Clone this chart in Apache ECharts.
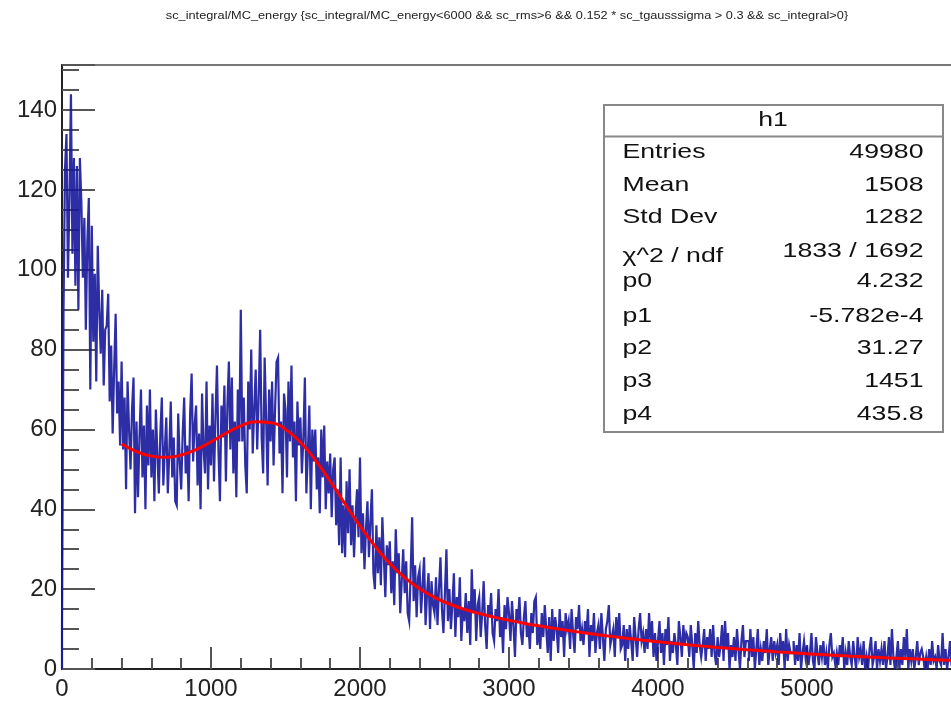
<!DOCTYPE html>
<html>
<head>
<meta charset="utf-8">
<script src="https://cdn.jsdelivr.net/npm/echarts@6/dist/echarts.min.js"></script>
<style>
html,body{margin:0;padding:0;background:#fff;}
#chart{width:951px;height:701px;}
</style>
</head>
<body>
<div id="chart"></div>
<script>
// ---- data ----
const chartTitle = 'sc_integral/MC_energy {sc_integral/MC_energy<6000 && sc_rms>6 && 0.152 * sc_tgausssigma > 0.3 && sc_integral>0}';
const binWidth = 10;       // histogram bin width (x units), bins start at 0
const counts = [
  10, 89, 125, 134, 98, 118, 144, 104, 128, 96,
  126, 90, 128, 117, 98, 113, 85, 107, 118, 70,
  111, 82, 99, 72, 106, 90, 79, 95, 71, 85,
  86, 94, 67, 81, 59, 75, 89, 64, 72, 56,
  77, 55, 68, 45, 72, 60, 50, 65, 73, 39,
  62, 43, 58, 70, 48, 61, 40, 66, 51, 70,
  48, 60, 42, 65, 54, 44, 59, 68, 46, 55,
  63, 44, 54, 67, 48, 58, 42, 41, 64, 52,
  45, 59, 68, 49, 56, 42, 64, 74, 52, 61,
  66, 46, 59, 40, 69, 55, 49, 72, 45, 61,
  51, 69, 47, 63, 76, 55, 42, 66, 58, 71,
  47, 66, 77, 55, 73, 49, 62, 43, 70, 57,
  90, 57, 68, 51, 44, 72, 60, 80, 54, 65,
  75, 55, 68, 85, 58, 49, 78, 63, 46, 70,
  57, 72, 51, 65, 77, 78, 54, 62, 44, 69,
  65, 48, 72, 57, 76, 53, 62, 42, 67, 56,
  63, 49, 58, 73, 44, 54, 66, 40, 60, 52,
  60, 45, 53, 39, 60, 48, 61, 40, 52, 44,
  54, 38, 50, 53, 36, 45, 31, 53, 29, 41,
  28, 47, 34, 50, 31, 41, 28, 38, 45, 33,
  53, 29, 39, 25, 35, 42, 28, 37, 45, 24,
  20, 36, 24, 33, 21, 38, 28, 18, 31, 26,
  32, 19, 27, 16, 35, 24, 29, 14, 22, 30,
  19, 27, 14, 12, 24, 38, 17, 26, 13, 23,
  25, 14, 21, 28, 11, 19, 24, 10, 22, 16,
  14, 23, 11, 20, 28, 15, 9, 19, 30, 12,
  20, 10, 16, 24, 8, 18, 13, 23, 7, 15,
  12, 19, 9, 17, 6, 25, 14, 20, 7, 16,
  18, 8, 14, 22, 11, 5, 16, 13, 19, 9,
  7, 15, 12, 20, 8, 13, 4, 16, 10, 18,
  14, 7, 17, 11, 3, 15, 12, 18, 9, 6,
  13, 17, 8, 11, 5, 14, 9, 17, 18, 6,
  11, 5, 14, 8, 16, 10, 4, 13, 2, 15,
  7, 13, 10, 4, 15, 8, 12, 3, 14, 10,
  12, 5, 15, 9, 4, 13, 10, 16, 7, 10,
  6, 12, 9, 15, 3, 11, 7, 14, 4, 9,
  11, 5, 14, 8, 2, 10, 12, 16, 6, 8,
  10, 3, 13, 8, 14, 5, 6, 11, 2, 10,
  5, 11, 7, 2, 13, 8, 3, 10, 14, 7,
  9, 4, 10, 5, 14, 7, 12, 3, 9, 2,
  7, 12, 4, 9, 1, 10, 6, 13, 2, 7,
  4, 9, 6, 1, 12, 8, 3, 11, 6, 9,
  8, 3, 11, 6, 0, 9, 4, 12, 6, 3,
  6, 10, 2, 8, 5, 10, 3, 11, 4, 1,
  8, 3, 6, 11, 2, 12, 5, 9, 0, 6,
  3, 8, 2, 10, 5, 0, 7, 11, 3, 7,
  7, 2, 10, 3, 8, 0, 5, 10, 1, 5,
  2, 7, 4, 10, 1, 5, 8, 2, 7, 4,
  6, 1, 9, 4, 7, 0, 10, 2, 6, 4,
  4, 7, 1, 6, 2, 9, 0, 4, 7, 3,
  6, 1, 4, 9, 2, 0, 8, 4, 1, 6,
  3, 7, 1, 4, 0, 6, 9, 3, 4, 1,
  4, 1, 6, 3, 8, 0, 4, 1, 7, 3,
  1, 7, 3, 0, 8, 3, 5, 1, 7, 0,
  3, 0, 5, 8, 1, 3, 7, 0, 5, 2,
  5, 1, 7, 0, 3, 8, 1, 10, 3, 0,
  3, 7, 0, 5, 1, 8, 3, 10, 0, 5,
  2, 5, 0, 3, 7, 1, 4, 5, 3, 0,
  3, 0, 5, 1, 7, 2, 3, 0, 6, 2,
  1, 9, 1, 5, 0, 3, 7, 1, 0, 3
];
const fitStart = 400;      // fit curve sampled every fitStep from fitStart
const fitStep = 100;
const fitValues = [
  56.35, 54.46, 53.32, 53.02, 53.61, 54.97, 56.92, 59.06, 60.89, 61.92,
  61.71, 60.00, 56.79, 52.33, 47.01, 41.34, 35.80, 30.77, 26.44, 22.90,
  20.11, 17.95, 16.28, 14.96, 13.90, 13.00, 12.21, 11.47, 10.83, 10.22,
  9.64, 9.10, 8.59, 8.11, 7.65, 7.22, 6.82, 6.43, 6.07, 5.73,
  5.41, 5.11, 4.82, 4.55, 4.29, 4.05, 3.82, 3.61, 3.41, 3.21,
  3.03, 2.86, 2.70, 2.55, 2.41, 2.27, 2.14
];
const statsTitle = 'h1';
const statLabels = ['Entries', 'Mean', 'Std Dev', 'χ^2 / ndf', 'p0', 'p1', 'p2', 'p3', 'p4'];
const statValues = ['49980', '1508', '1282', '1833 / 1692', '4.232', '-5.782e-4', '31.27', '1451', '435.8'];

// ---- layout ----
const labelY = [152.7, 185, 217, 256.7, 281.7, 316.7, 348, 381.7, 414];
const valueY = [152.7, 185, 217, 251.7, 281.7, 316.7, 348, 381.7, 414];
const FONT = '"Liberation Sans", Arial, Helvetica, sans-serif';
const stretch = 1.27;

const histData = [[0, 0]].concat(counts.map((v, i) => [i * binWidth, v]));
histData.push([counts.length * binWidth, counts[counts.length - 1]]);
const fitData = fitValues.map((v, i) => [fitStart + i * fitStep, v]);

const graphics = [
  { type: 'text', x: 507, y: 16, z: 100, scaleX: 1.16,
    style: { text: chartTitle, fontSize: 11, fontFamily: FONT, fill: '#222', align: 'center', verticalAlign: 'middle' } },
  { type: 'rect', z: 100, shape: { x: 604, y: 105, width: 339, height: 327 },
    style: { fill: '#fff', stroke: '#888', lineWidth: 2 } },
  { type: 'line', z: 101, shape: { x1: 604, y1: 136.5, x2: 943, y2: 136.5 },
    style: { stroke: '#888', lineWidth: 2 } },
  { type: 'text', x: 773, y: 120, z: 102, scaleX: stretch,
    style: { text: statsTitle, fontSize: 21, fontFamily: FONT, fill: '#111', align: 'center', verticalAlign: 'middle' } }
];
statLabels.forEach((t, i) => {
  graphics.push({ type: 'text', x: 622.5, y: labelY[i], z: 102, scaleX: stretch,
    style: { text: t, fontSize: 21, fontFamily: FONT, fill: '#111', align: 'left', verticalAlign: 'middle' } });
  graphics.push({ type: 'text', x: 923.5, y: valueY[i], z: 102, scaleX: stretch,
    style: { text: statValues[i], fontSize: 21, fontFamily: FONT, fill: '#111', align: 'right', verticalAlign: 'middle' } });
});

const plain = v => String(Math.round(v));

const chart = echarts.init(document.getElementById('chart'), null, { renderer: 'canvas' });
chart.setOption({
  animation: false,
  backgroundColor: '#fff',
  grid: { left: 62, top: 65, right: -5, bottom: 32, show: true, borderColor: '#777', borderWidth: 2,
          backgroundColor: 'transparent', containLabel: false, outerBoundsMode: 'none' },
  xAxis: {
    type: 'value', min: 0, max: 6000, interval: 1000,
    axisLine: { show: true, onZero: false, lineStyle: { color: '#222', width: 2 } },
    axisTick: { show: true, inside: true, length: 22, lineStyle: { color: '#555', width: 2 } },
    minorTick: { show: true, splitNumber: 5, length: 11, lineStyle: { color: '#555', width: 2 } },
    splitLine: { show: false },
    axisLabel: { fontSize: 24, fontFamily: FONT, color: '#222', margin: 8, showMaxLabel: false, formatter: plain }
  },
  yAxis: {
    type: 'value', min: 0, max: 151.3, interval: 20,
    axisLine: { show: true, onZero: false, lineStyle: { color: '#222', width: 2 } },
    axisTick: { show: true, inside: true, length: 33, lineStyle: { color: '#555', width: 2 } },
    minorTick: { show: true, splitNumber: 4, length: 17, lineStyle: { color: '#555', width: 2 } },
    splitLine: { show: false },
    axisLabel: { fontSize: 24, fontFamily: FONT, color: '#222', margin: 5, showMaxLabel: false, formatter: plain }
  },
  series: [
    { type: 'line', step: 'end', data: histData, showSymbol: false, symbol: 'none',
      lineStyle: { color: '#16169c', width: 2.2, opacity: 0.9, join: 'miter', cap: 'butt' }, z: 3, clip: true },
    { type: 'line', data: fitData, smooth: true, showSymbol: false, symbol: 'none',
      lineStyle: { color: '#ff0000', width: 3 }, z: 4, clip: true }
  ],
  graphic: graphics
});
</script>
</body>
</html>
